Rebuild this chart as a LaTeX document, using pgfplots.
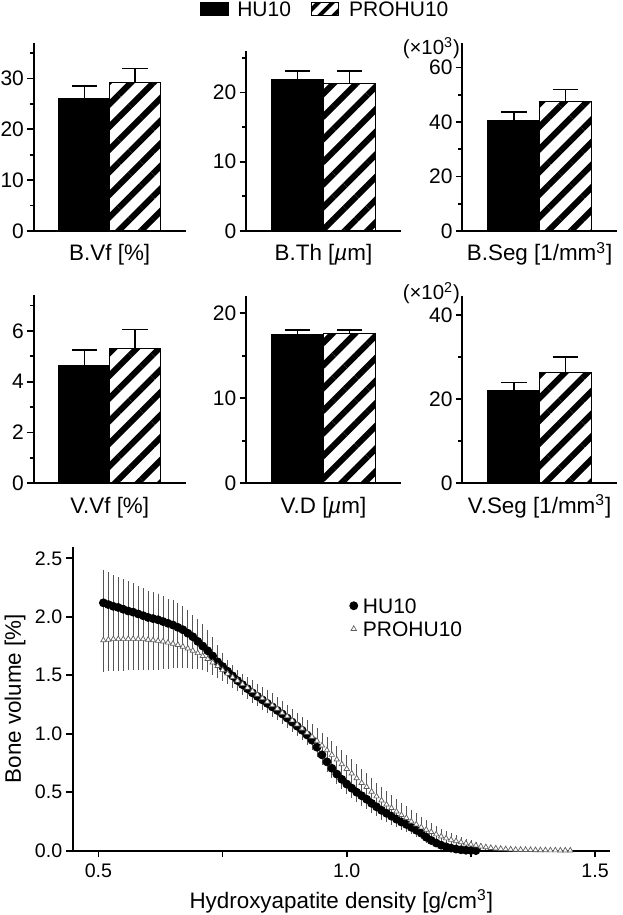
\documentclass[border=0pt]{standalone}
\usepackage{pgfplots}
\pgfplotsset{compat=1.18}
\usepackage{pgfplotstable}
\usepackage{fontspec}
\setmainfont{Liberation Sans}
\usetikzlibrary{patterns.meta}

\pgfplotstableread{
x y e
0.51 2.120 0.280
0.52 2.105 0.275
0.53 2.090 0.270
0.54 2.080 0.265
0.55 2.065 0.260
0.56 2.050 0.255
0.57 2.040 0.250
0.58 2.025 0.240
0.59 2.010 0.235
0.60 1.995 0.230
0.61 1.985 0.225
0.62 1.975 0.220
0.63 1.960 0.215
0.64 1.945 0.210
0.65 1.930 0.210
0.66 1.910 0.205
0.67 1.890 0.200
0.68 1.860 0.195
0.69 1.830 0.190
0.70 1.790 0.190
0.71 1.750 0.185
0.72 1.710 0.180
0.73 1.665 0.160
0.74 1.615 0.140
0.75 1.575 0.120
0.76 1.535 0.100
0.77 1.495 0.095
0.78 1.455 0.090
0.79 1.420 0.088
0.80 1.385 0.085
0.81 1.350 0.085
0.82 1.320 0.085
0.83 1.290 0.085
0.84 1.260 0.085
0.85 1.230 0.085
0.86 1.200 0.085
0.87 1.170 0.085
0.88 1.135 0.085
0.89 1.100 0.085
0.90 1.065 0.085
0.91 1.030 0.085
0.92 0.990 0.085
0.93 0.945 0.085
0.94 0.885 0.085
0.95 0.820 0.085
0.96 0.760 0.085
0.97 0.705 0.085
0.98 0.655 0.085
0.99 0.610 0.085
1.00 0.570 0.085
1.01 0.535 0.085
1.02 0.500 0.085
1.03 0.470 0.085
1.04 0.440 0.085
1.05 0.405 0.085
1.06 0.375 0.082
1.07 0.345 0.080
1.08 0.320 0.077
1.09 0.295 0.073
1.10 0.270 0.070
1.11 0.245 0.066
1.12 0.225 0.062
1.13 0.200 0.058
1.14 0.175 0.054
1.15 0.150 0.050
1.16 0.115 0.045
1.17 0.088 0.040
1.18 0.066 0.035
1.19 0.047 0.030
1.20 0.033 0.025
1.21 0.022 0.020
1.22 0.014 0.015
1.23 0.008 0.010
1.24 0.004 0.007
1.25 0.002 0.005
1.26 0.001 0.003
}\hudata

\pgfplotstableread{
x y e
0.51 1.800 0.270
0.52 1.805 0.270
0.53 1.810 0.270
0.54 1.810 0.270
0.55 1.810 0.270
0.56 1.812 0.268
0.57 1.812 0.266
0.58 1.810 0.264
0.59 1.810 0.262
0.60 1.805 0.260
0.61 1.800 0.255
0.62 1.795 0.250
0.63 1.790 0.240
0.64 1.780 0.225
0.65 1.770 0.210
0.66 1.760 0.195
0.67 1.745 0.180
0.68 1.730 0.170
0.69 1.710 0.155
0.70 1.690 0.140
0.71 1.665 0.120
0.72 1.640 0.100
0.73 1.610 0.095
0.74 1.580 0.090
0.75 1.545 0.090
0.76 1.515 0.090
0.77 1.485 0.090
0.78 1.455 0.090
0.79 1.425 0.090
0.80 1.395 0.090
0.81 1.365 0.092
0.82 1.335 0.094
0.83 1.305 0.096
0.84 1.275 0.098
0.85 1.245 0.100
0.86 1.215 0.100
0.87 1.180 0.100
0.88 1.150 0.100
0.89 1.115 0.100
0.90 1.080 0.100
0.91 1.045 0.102
0.92 1.010 0.104
0.93 0.975 0.106
0.94 0.940 0.108
0.95 0.900 0.110
0.96 0.860 0.112
0.97 0.820 0.114
0.98 0.780 0.116
0.99 0.740 0.118
1.00 0.700 0.120
1.01 0.660 0.120
1.02 0.620 0.120
1.03 0.580 0.120
1.04 0.545 0.120
1.05 0.505 0.120
1.06 0.465 0.118
1.07 0.430 0.116
1.08 0.395 0.114
1.09 0.365 0.112
1.10 0.335 0.110
1.11 0.305 0.106
1.12 0.280 0.102
1.13 0.250 0.098
1.14 0.225 0.094
1.15 0.200 0.090
1.16 0.180 0.084
1.17 0.160 0.078
1.18 0.140 0.072
1.19 0.122 0.066
1.20 0.106 0.060
1.21 0.093 0.055
1.22 0.082 0.050
1.23 0.072 0.045
1.24 0.062 0.040
1.25 0.053 0.035
1.26 0.045 0.031
1.27 0.037 0.027
1.28 0.030 0.023
1.29 0.024 0.019
1.30 0.019 0.015
1.31 0.016 0.013
1.32 0.013 0.011
1.33 0.011 0.009
1.34 0.009 0.007
1.35 0.008 0.006
1.36 0.007 0.005
1.37 0.006 0.005
1.38 0.005 0.004
1.39 0.004 0.004
1.40 0.004 0.003
1.41 0.003 0.002
1.42 0.003 0.002
1.43 0.002 0.002
1.44 0.002 0.002
1.45 0.002 0.002
}\prodata

\definecolor{errgray}{RGB}{85,85,85}
\definecolor{trigray}{RGB}{95,95,95}

\pgfplotsset{
  barpanel/.style={
    scale only axis, anchor=south west, clip=false,
    axis lines*=left,
    xmin=0, xmax=3, ymin=0, xtick=\empty,
    axis line style={line width=1pt},
    every tick/.style={black, line width=0.9pt},
    tick align=outside, major tick length=3.2pt, minor tick length=2pt,
    tick label style={font=\fontsize{10.5}{12}\selectfont},
    yticklabel style={inner sep=1.5pt},
    /pgf/number format/assume math mode=true,
    xlabel style={at={(axis description cs:0.5,0)}, anchor=base, yshift=-15pt,
      font=\fontsize{11.2}{13}\selectfont},
  },
  hubar/.style={forget plot, ybar, bar shift=0pt, fill=black, draw=black, line width=0.6pt,
    error bars/.cd, y dir=plus, y explicit,
    error bar style={line width=0.8pt, black, solid},
    error mark options={rotate=90, mark size=6.4pt, line width=0.8pt, black}},
  probar/.style={forget plot, ybar, bar shift=0pt, draw=black, line width=0.6pt,
    pattern={Lines[angle=45,distance=8pt,line width=3pt]}, pattern color=black,
    error bars/.cd, y dir=plus, y explicit,
    error bar style={line width=0.8pt, black, solid},
    error mark options={rotate=90, mark size=6.4pt, line width=0.8pt, black}},
}

\begin{document}
\begin{tikzpicture}
\useasboundingbox (0,0) rectangle (311pt,457.5pt);

% ---------- Row 1 ----------
\begin{axis}[barpanel, at={(16.85pt,342pt)}, width=76pt, height=94pt, bar width=25.33pt,
  ymax=37, ytick={0,10,20,30}, minor ytick={5,15,25,35}, xlabel={B.Vf [\%]}]
\addplot[hubar] coordinates {(1,26.1) +- (0,2.4)};
\addplot[probar] coordinates {(2,29.3) +- (0,2.7)};
\end{axis}

\begin{axis}[barpanel, at={(123pt,342pt)}, width=77.5pt, height=90pt, bar width=25.83pt,
  ymax=26, ytick={0,10,20}, minor ytick={5,15,25}, xlabel={B.Th [\textit{µ}m]},
  legend style={at={(rel axis cs:0.506,1.233)}, anchor=center, draw=none, fill=none,
    inner sep=0pt, font=\fontsize{10.5}{12}\selectfont,
    nodes={inner sep=0pt, text height=7.6pt, text depth=0pt},
    /tikz/every odd column/.append style={column sep=4.3pt},
    /tikz/every even column/.append style={column sep=9.3pt}},
  legend columns=2,
  legend image code/.code={\draw[#1] (0pt,-3.1pt) rectangle (13.5pt,3.1pt);}]
\addplot[hubar] coordinates {(1,21.8) +- (0,1.3)};
\addplot[probar] coordinates {(2,21.3) +- (0,1.8)};
\addlegendimage{fill=black, draw=black, line width=0.6pt}
\addlegendentry{HU10}
\addlegendimage{draw=black, line width=0.6pt, pattern={Lines[angle=45,distance=5pt,line width=2pt]}, pattern color=black}
\addlegendentry{PROHU10}
\end{axis}

\begin{axis}[barpanel, name=p3, at={(231.15pt,342pt)}, width=77.3pt, height=94pt, bar width=25.77pt,
  ymax=69, ytick={0,20,40,60}, minor ytick={10,30,50}, xlabel={B.Seg [1/mm\textsuperscript{3}]}]
\addplot[hubar] coordinates {(1,40.4) +- (0,3.3)};
\addplot[probar] coordinates {(2,47.4) +- (0,4.5)};
\end{axis}
\node[anchor=east, inner sep=0pt, font=\fontsize{10.2}{12}\selectfont] at ([xshift=-1pt, yshift=-2.5pt]p3.north west) {(×10\textsuperscript{3})};

% ---------- Row 2 ----------
\begin{axis}[barpanel, at={(16.85pt,215.85pt)}, width=76pt, height=94pt, bar width=25.33pt,
  ymax=7.4, ytick={0,2,4,6}, minor ytick={1,3,5,7}, xlabel={V.Vf [\%]}]
\addplot[hubar] coordinates {(1,4.65) +- (0,0.6)};
\addplot[probar] coordinates {(2,5.29) +- (0,0.77)};
\end{axis}

\begin{axis}[barpanel, at={(123pt,215.85pt)}, width=77.5pt, height=93.5pt, bar width=25.83pt,
  ymax=22, ytick={0,10,20}, minor ytick={5,15}, xlabel={V.D [\textit{µ}m]}]
\addplot[hubar] coordinates {(1,17.45) +- (0,0.6)};
\addplot[probar] coordinates {(2,17.6) +- (0,0.4)};
\end{axis}

\begin{axis}[barpanel, name=p6, at={(231.15pt,215.85pt)}, width=77.3pt, height=93.7pt, bar width=25.77pt,
  ymax=44.5, ytick={0,20,40}, minor ytick={10,30}, xlabel={V.Seg [1/mm\textsuperscript{3}]}]
\addplot[hubar] coordinates {(1,21.9) +- (0,2.0)};
\addplot[probar] coordinates {(2,26.4) +- (0,3.6)};
\end{axis}
\node[anchor=east, inner sep=0pt, font=\fontsize{10.2}{12}\selectfont] at ([xshift=-1pt, yshift=1.2pt]p6.north west) {(×10\textsuperscript{2})};

% ---------- Bottom ----------
\begin{axis}[scale only axis, anchor=south west, at={(36.3pt,32.15pt)},
  width=268.7pt, height=152pt, clip=false,
  axis lines*=left,
  xmin=0.448, xmax=1.53, ymin=0, ymax=2.6,
  xtick={0.5,1,1.5}, minor xtick={0.75,1.25},
  ytick={0,0.5,1,1.5,2,2.5},
  axis line style={line width=1pt},
  every tick/.style={black, line width=0.9pt},
  tick align=outside, major tick length=3.2pt, minor tick length=3.2pt,
  tick label style={font=\fontsize{9.8}{11}\selectfont},
  /pgf/number format/assume math mode=true,
  xticklabel style={/pgf/number format/.cd, fixed, fixed zerofill, precision=1},
  yticklabel style={inner sep=1.8pt, /pgf/number format/.cd, fixed, fixed zerofill, precision=1},
  xlabel={Hydroxyapatite density [g/cm\textsuperscript{3}]},
  ylabel={Bone volume [\%]},
  xlabel style={at={(axis description cs:0.5,-0.19)}, anchor=base, font=\fontsize{11.2}{13}\selectfont},
  ylabel style={at={(axis description cs:-0.107,0.5)}, anchor=center, font=\fontsize{11.2}{13}\selectfont},
  legend style={at={(rel axis cs:0.515,0.832)}, anchor=north west, draw=none, fill=none,
    inner sep=0pt, font=\fontsize{10.5}{12}\selectfont, row sep=4pt,
    cells={anchor=west},
    nodes={inner sep=0pt, text height=7.6pt, text depth=0pt},
    /tikz/every odd column/.append style={column sep=2.6pt}},
  legend image code/.code={\draw[#1] plot coordinates {(0pt,0pt)};},
]
% error bars
\addplot[forget plot, draw=none, mark=none,
  error bars/.cd, y dir=both, y explicit, error mark=none,
  error bar style={draw=errgray, line width=0.4pt, solid}]
  table[x=x, y=y, y error=e] {\prodata};
\addplot[forget plot, draw=none, mark=none,
  error bars/.cd, y dir=both, y explicit, error mark=none,
  error bar style={draw=errgray, line width=0.4pt, solid}]
  table[x=x, y=y, y error=e] {\hudata};
% markers
\addplot[forget plot, only marks, mark=*, mark size=2pt,
  mark options={fill=black, draw=black}]
  table[x=x, y=y] {\hudata};
\addplot[forget plot, only marks, mark=triangle*, mark size=1.55pt,
  mark options={fill=white, draw=trigray, line width=0.35pt}]
  table[x=x, y=y] {\prodata};
\addlegendimage{only marks, mark=*, mark size=2pt, mark options={fill=black, draw=black}}
\addlegendentry{HU10}
\addlegendimage{only marks, mark=triangle*, mark size=1.6pt, mark options={fill=white, draw=trigray, line width=0.35pt}}
\addlegendentry{PROHU10}
\end{axis}
\end{tikzpicture}
\end{document}
